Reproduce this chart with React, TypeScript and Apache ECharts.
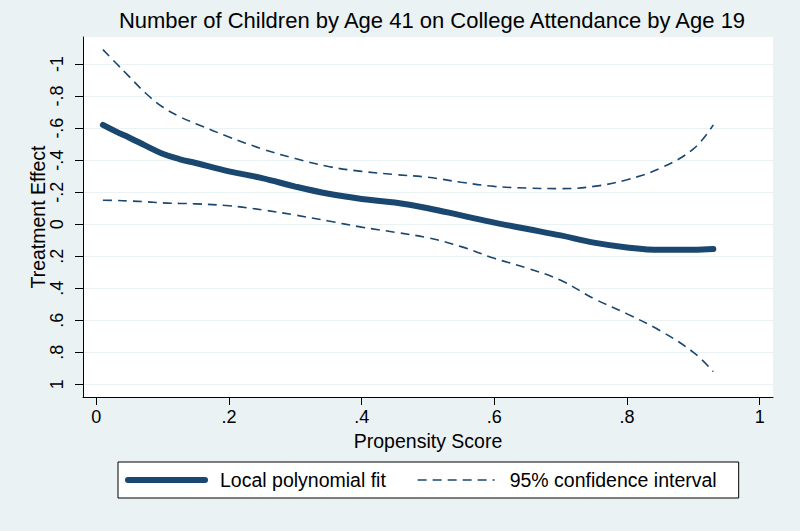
import React, { useEffect, useRef } from "react";
import * as echarts from "echarts";

const propensity = [0.01, 0.03, 0.05, 0.075, 0.1, 0.125, 0.15, 0.2, 0.25, 0.3, 0.35, 0.4, 0.45, 0.5, 0.55, 0.6, 0.65, 0.7, 0.75, 0.8, 0.85, 0.9, 0.93];
const fitValues = [-0.62, -0.578, -0.54, -0.489, -0.44, -0.407, -0.382, -0.33, -0.288, -0.235, -0.19, -0.158, -0.135, -0.1, -0.055, -0.01, 0.03, 0.07, 0.115, 0.145, 0.16, 0.16, 0.155];
const upperCI = [-1.09, -1.005, -0.92, -0.816, -0.732, -0.673, -0.628, -0.545, -0.47, -0.41, -0.36, -0.33, -0.31, -0.293, -0.262, -0.236, -0.226, -0.222, -0.236, -0.278, -0.35, -0.47, -0.62];
const lowerCI = [-0.15, -0.148, -0.145, -0.14, -0.133, -0.13, -0.127, -0.115, -0.09, -0.057, -0.02, 0.018, 0.05, 0.085, 0.14, 0.213, 0.275, 0.35, 0.465, 0.56, 0.665, 0.8, 0.92];

const xTicks = [0, 0.2, 0.4, 0.6, 0.8, 1];
const yTicks = [-1, -0.8, -0.6, -0.4, -0.2, 0, 0.2, 0.4, 0.6, 0.8, 1];

const titleText = "Number of Children by Age 41 on College Attendance by Age 19";
const xName = "Propensity Score";
const yName = "Treatment Effect";
const fitName = "Local polynomial fit";
const ciName = "95% confidence interval";

const NAVY = "#1a476f";
const BG = "#eaf2f3";
const FONT = "Liberation Sans, Arial, Helvetica, sans-serif";

function stataLabel(v: number): string {
  const r = Math.round(v * 10) / 10;
  if (r === 0) return "0";
  const s = String(Math.abs(r)).replace(/^0\./, ".");
  return (r < 0 ? "-" : "") + s;
}

export default function App() {
  const ref = useRef<HTMLDivElement>(null);

  useEffect(() => {
    document.body.style.margin = "0";
    if (!ref.current) return;
    const chart = echarts.init(ref.current, null, { renderer: "svg" });
    const pairs = (ys: number[]) => propensity.map((x, i) => [x, ys[i]]);

    chart.setOption({
      animation: false,
      backgroundColor: BG,
      textStyle: { fontFamily: FONT },
      title: {
        text: titleText,
        left: 427,
        textAlign: "center",
        top: 4,
        textStyle: { fontFamily: FONT, fontSize: 22, fontWeight: "normal", color: "#000" },
      },
      grid: {
        left: 83,
        right: 27,
        top: 37,
        bottom: 134,
        show: true,
        backgroundColor: "#fff",
        borderWidth: 0,
      },
      legend: {
        left: 118,
        top: 462,
        orient: "horizontal",
        backgroundColor: "#fff",
        borderColor: "#000",
        borderWidth: 1,
        borderRadius: 0,
        padding: [8, 22, 8, 7],
        itemWidth: 77,
        itemHeight: 14,
        itemGap: 31,
        itemStyle: { opacity: 0, borderWidth: 0 },
        lineStyle: { width: "inherit" },
        textStyle: { fontFamily: FONT, fontSize: 19.5, color: "#000", padding: [0, 0, 0, 10] },
        data: [fitName, ciName],
      },
      xAxis: {
        type: "value",
        min: -0.02,
        max: 1.02,
        name: xName,
        nameLocation: "middle",
        nameGap: 31,
        nameTextStyle: { fontFamily: FONT, fontSize: 19.5, color: "#000" },
        axisLine: { show: true, onZero: false, lineStyle: { color: "#000", width: 1 } },
        axisTick: { show: true, length: 8, lineStyle: { color: "#000" }, customValues: xTicks },
        axisLabel: {
          show: true,
          customValues: xTicks,
          formatter: (v: number) => stataLabel(v),
          fontFamily: FONT,
          fontSize: 18,
          color: "#000",
          margin: 11,
        },
        splitLine: { show: false },
      },
      yAxis: {
        type: "value",
        inverse: true,
        min: -1.169,
        max: 1.079,
        name: yName,
        nameLocation: "middle",
        nameGap: 35,
        nameMoveOverlap: false,
        nameRotate: 90,
        nameTextStyle: { fontFamily: FONT, fontSize: 19.5, color: "#000" },
        axisLine: { show: true, onZero: false, lineStyle: { color: "#000", width: 1 } },
        axisTick: { show: true, length: 8, lineStyle: { color: "#000" }, customValues: yTicks },
        axisLabel: {
          show: true,
          customValues: yTicks,
          rotate: 90,
          formatter: (v: number) => stataLabel(v),
          fontFamily: FONT,
          fontSize: 18,
          color: "#000",
          margin: 17,
        },
        splitLine: { show: true, lineStyle: { color: BG, width: 1 } },
      },
      series: [
        {
          name: ciName,
          type: "line",
          data: pairs(upperCI),
          smooth: 0.4,
          showSymbol: false,
          symbol: "none",
          lineStyle: { color: NAVY, width: 1.6, type: [9, 6] },
          itemStyle: { color: NAVY },
          z: 2,
        },
        {
          name: ciName,
          type: "line",
          data: pairs(lowerCI),
          smooth: 0.4,
          showSymbol: false,
          symbol: "none",
          lineStyle: { color: NAVY, width: 1.6, type: [9, 6] },
          itemStyle: { color: NAVY },
          z: 2,
        },
        {
          name: fitName,
          type: "line",
          data: pairs(fitValues),
          smooth: 0.4,
          showSymbol: false,
          symbol: "none",
          lineStyle: { color: NAVY, width: 6, cap: "round" },
          itemStyle: { color: NAVY },
          z: 3,
        },
      ],
    });

    return () => chart.dispose();
  }, []);

  return <div ref={ref} style={{ width: 800, height: 531 }} />;
}
